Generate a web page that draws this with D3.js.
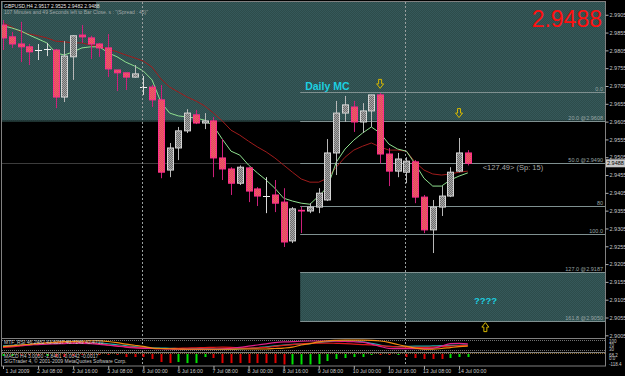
<!DOCTYPE html>
<html><head><meta charset="utf-8">
<script src="https://cdn.jsdelivr.net/npm/d3@7"></script>
<style>html,body{margin:0;padding:0;background:#000;overflow:hidden}svg{display:block}text{font-family:"Liberation Sans",Arial,sans-serif}</style>
</head><body><svg id="c" width="625" height="376"></svg>
<script>
// ---------------- DATA ----------------
const symbolTitle = "GBPUSD,H4  2.9517 2.9525 2.9482 2.9488";
const timerText = "107 Minutes and 49 Seconds left to Bar Close.  s : \"(Spread : 45)\"";
const timeLabels = ["1 Jul 2009","2 Jul 08:00","2 Jul 16:00","3 Jul 08:00","6 Jul 00:00","6 Jul 16:00","7 Jul 08:00","8 Jul 00:00","8 Jul 16:00","9 Jul 08:00","10 Jul 00:00","10 Jul 16:00","13 Jul 08:00","14 Jul 00:00"];
const timeLabelBars = [0,4,8,12,16,20,24,28,32,36,40,44,48,52];
const weekSeparatorBars = [16,46];

const open  = [2.9876,2.9843,2.9823,2.9815,2.9806,2.9809,2.9806,2.9674,2.9787,2.9848,2.9840,2.9823,2.9812,2.9750,2.9742,2.9730,2.9702,2.9702,2.9666,2.9469,2.9531,2.9579,2.9624,2.9601,2.9607,2.9503,2.9472,2.9432,2.9475,2.9416,2.9396,2.9399,2.9379,2.9270,2.9356,2.9354,2.9365,2.9385,2.9517,2.9629,2.9646,2.9604,2.9635,2.9680,2.9514,2.9466,2.9463,2.9492,2.9393,2.9301,2.9365,2.9396,2.9466,2.9517];
const high  = [2.9890,2.9857,2.9885,2.9823,2.9823,2.9826,2.9809,2.9831,2.9848,2.9876,2.9846,2.9826,2.9851,2.9750,2.9742,2.9764,2.9733,2.9708,2.9708,2.9545,2.9590,2.9640,2.9638,2.9629,2.9618,2.9556,2.9477,2.9482,2.9477,2.9421,2.9449,2.9441,2.9418,2.9365,2.9366,2.9376,2.9418,2.9556,2.9663,2.9677,2.9663,2.9657,2.9680,2.9685,2.9531,2.9517,2.9505,2.9497,2.9399,2.9385,2.9424,2.9477,2.9559,2.9525];
const low   = [2.9806,2.9812,2.9772,2.9764,2.9778,2.9789,2.9643,2.9660,2.9722,2.9826,2.9781,2.9787,2.9730,2.9691,2.9694,2.9728,2.9680,2.9646,2.9446,2.9449,2.9497,2.9573,2.9598,2.9584,2.9449,2.9441,2.9399,2.9427,2.9379,2.9368,2.9348,2.9351,2.9253,2.9264,2.9292,2.9348,2.9348,2.9382,2.9455,2.9604,2.9576,2.9573,2.9590,2.9488,2.9424,2.9449,2.9432,2.9376,2.9292,2.9236,2.9340,2.9393,2.9463,2.9482];
const close = [2.9840,2.9823,2.9815,2.9801,2.9806,2.9809,2.9674,2.9789,2.9846,2.9843,2.9823,2.9812,2.9753,2.9742,2.9730,2.9739,2.9702,2.9666,2.9463,2.9531,2.9579,2.9629,2.9601,2.9607,2.9503,2.9472,2.9432,2.9477,2.9410,2.9396,2.9396,2.9376,2.9267,2.9360,2.9354,2.9365,2.9404,2.9517,2.9629,2.9652,2.9604,2.9635,2.9680,2.9514,2.9466,2.9500,2.9494,2.9393,2.9301,2.9365,2.9396,2.9463,2.9517,2.9488];

const maFast = [2.9874,2.9868,2.9860,2.9848,2.9837,2.9826,2.9798,2.9792,2.9801,2.9812,2.9815,2.9815,2.9798,2.9787,2.9772,2.9761,2.9747,2.9722,2.9660,2.9629,2.9621,2.9618,2.9615,2.9609,2.9593,2.9556,2.9522,2.9511,2.9483,2.9461,2.9441,2.9418,2.9390,2.9382,2.9376,2.9373,2.9396,2.9421,2.9491,2.9528,2.9553,2.9573,2.9590,2.9573,2.9542,2.9528,2.9522,2.9486,2.9446,2.9424,2.9424,2.9441,2.9452,2.9461];
const maSlow = [2.9882,2.9871,2.9857,2.9851,2.9846,2.9840,2.9831,2.9829,2.9826,2.9826,2.9820,2.9815,2.9809,2.9801,2.9792,2.9784,2.9775,2.9758,2.9725,2.9702,2.9688,2.9674,2.9663,2.9649,2.9629,2.9607,2.9581,2.9567,2.9550,2.9534,2.9520,2.9503,2.9483,2.9463,2.9444,2.9435,2.9435,2.9446,2.9477,2.9505,2.9525,2.9536,2.9545,2.9534,2.9525,2.9525,2.9522,2.9491,2.9469,2.9458,2.9455,2.9458,2.9463,2.9466];

const priceTicks = [2.9005,2.9055,2.9105,2.9155,2.9205,2.9255,2.9305,2.9355,2.9405,2.9455,2.9505,2.9555,2.9605,2.9655,2.9705,2.9755,2.9805,2.9855,2.9905];
const lastPrice = 2.9488;

const fibHigh = 2.9687, fibLow = 2.9290, fibStartBar = 34;
const fibLevels = [0, 20, 50, 80, 100, 127, 161.8];
const fibLabels = ["0.0", "20.0 @2.9608", "50.0 @2.9490", "80", "100.0", "127.0 @2.9187", "161.8 @2.9050"];

const arrowBars   = [43, 52, 55];
const arrowPrices = [2.9711, 2.9629, 2.9028];
const arrowDirs   = ["down", "down", "up"];

const rsiOrange  = [43,46,50,53,56,59,62,64,65,66,68,68,65,60,54,49,44,37,35,34,33,32,32,32,32,32,32,33,33,33,33,35,37,41,50,56,63,68,70,71,71,71,70,67,61,52,44,37,32,32,35,39,43,45];
const rsiMagenta = [43,45,48,50,52,54,55,56,57,57,56,53,49,45,41,38,36,35,34,33,32,32,32,33,33,34,36,40,45,50,55,60,63,64,66,67,67,67,66,65,64,62,54,44,36,35,35,35,35,36,45,56,57,55];
const rsiTeal    = [46,48,50,52,54,56,58,59,60,60,60,58,55,51,47,43,40,38,37,36,35,34,34,33,32,32,32,33,35,38,42,46,50,53,54,56,60,64,67,68,67,63,57,50,44,43,44,45,45,46,47,48,49,50];
const rsiRed     = [40,42,46,50,55,58,60,62,62,61,59,55,50,46,43,40,38,36,35,35,36,37,38,39,40,41,40,38,37,38,40,44,48,52,55,57,58,58,57,56,54,52,50,47,44,42,41,40,40,41,43,45,47,48];
const rsiText = "MTF_RSI  46.2482  43.5237  40.7249  42.4710";

const histValues = [-22,-22,-11,-11,-22,-22,-33,-33,-22,-11,-11,-11,-11,-11,-34,-34,-34,-56,-90,-102,-90,-102,-102,-34,-45,-102,-102,-102,-102,-102,-102,-102,-118,-118,-118,-118,-113,-79,-56,-45,-34,-34,-11,-11,-11,-11,-34,-45,-56,-56,-56,-45,-34,-34];
const histDirs   = ["up","up","dn","dn","dn","up","dn","dn","dn","dn","dn","dn","dn","dn","dn","dn","dn","dn","dn","dn","up","up","up","up","dn","dn","dn","dn","dn","dn","dn","dn","dn","up","up","up","up","up","up","up","up","up","up","dn","dn","up","dn","dn","dn","dn","dn","up","up","up"];
const histText1 = "MACD H4  3.0000  -2.8401  -0.0042  -0.0017";
const histText2 = "SIGTrader 4, © 2001-2009 MetaQuotes Software Corp.";

// ---------------- LAYOUT ----------------
const W = 625, H = 376;
const paneL = 2, paneR = 605, mainT = 2, mainB = 338.5, p1B = 352.5, p2B = 366;
const svg = d3.select("#c");
svg.append("rect").attr("width", W).attr("height", H).attr("fill", "#000");

const x = d3.scaleLinear().domain([0, 68]).range([3, 3 + 68 * 8.77]);
const y = d3.scaleLinear().domain([2.9055, 2.9705]).range([317.5, 86]);

const defs = svg.append("defs");
defs.append("clipPath").attr("id", "mainClip").append("rect")
  .attr("x", paneL).attr("y", mainT).attr("width", paneR - paneL).attr("height", mainB - mainT);
function dither(id, a, b) {
  const p = defs.append("pattern").attr("id", id).attr("width", 2).attr("height", 2).attr("patternUnits", "userSpaceOnUse");
  p.append("rect").attr("width", 2).attr("height", 2).attr("fill", a);
  p.append("rect").attr("width", 1).attr("height", 1).attr("fill", b);
  p.append("rect").attr("x", 1).attr("y", 1).attr("width", 1).attr("height", 1).attr("fill", b);
}
dither("bearFill", "#e43a6c", "#ec6a5c");
dither("bullFill", "#6c6c6c", "#a8a8a8");
dither("tealFill", "#2d4c4a", "#35585a");

const main = svg.append("g").attr("clip-path", "url(#mainClip)");

// zones (teal rectangles)
const fibPrice = lv => fibHigh - (fibHigh - fibLow) * lv / 100;
main.append("rect").attr("x", paneL).attr("y", mainT)
  .attr("width", paneR - paneL).attr("height", y(fibPrice(20)) - mainT).attr("fill", "url(#tealFill)");
main.append("rect").attr("x", x(fibStartBar) - 1).attr("y", y(fibPrice(127)))
  .attr("width", paneR - x(fibStartBar) + 1).attr("height", y(fibPrice(161.8)) - y(fibPrice(127))).attr("fill", "url(#tealFill)");
main.append("line").attr("x1", paneL).attr("x2", paneR)
  .attr("y1", Math.round(y(fibPrice(20))) + 0.5).attr("y2", Math.round(y(fibPrice(20))) + 0.5)
  .attr("stroke", "#1e3230").attr("stroke-width", 1);

// bid line
main.append("line").attr("x1", paneL).attr("x2", paneR)
  .attr("y1", Math.round(y(lastPrice)) + 0.5).attr("y2", Math.round(y(lastPrice)) + 0.5)
  .attr("stroke", "#3c3c3c");

// fib lines
fibLevels.forEach((lv, k) => {
  const yy = Math.round(y(fibPrice(lv))) + 0.5;
  main.append("line").attr("x1", x(fibStartBar) - 1).attr("x2", paneR).attr("y1", yy).attr("y2", yy)
    .attr("stroke", "#7f9090").attr("stroke-width", 1);
  main.append("text").attr("x", paneR - 2).attr("y", yy - 1.5).attr("text-anchor", "end")
    .attr("font-size", 5.5).attr("fill", "#9aa6a6").text(fibLabels[k]);
});

// week separators
weekSeparatorBars.forEach(b => {
  svg.append("line").attr("x1", Math.round(x(b)) - 0.5).attr("x2", Math.round(x(b)) - 0.5)
    .attr("y1", mainT).attr("y2", p2B).attr("stroke", "#9aa0a0").attr("stroke-dasharray", "2,2").attr("stroke-width", 1);
});

// moving averages
const idx = d3.range(open.length);
const lineGen = arr => d3.line().x(i => x(i)).y(i => y(arr[i]))(idx);
main.append("path").attr("d", lineGen(maSlow)).attr("fill", "none").attr("stroke", "#a01c1c").attr("stroke-width", 1);
main.append("path").attr("d", lineGen(maFast)).attr("fill", "none").attr("stroke", "#8fe08f").attr("stroke-width", 1);

// candles
idx.forEach(i => {
  const cx = Math.round(x(i)) + 0.5;
  const bull = close[i] >= open[i];
  const doji = Math.abs(close[i] - open[i]) < 0.00012;
  const wickCol = bull ? "#b8b8b8" : "#cc1f7a";
  main.append("line").attr("x1", cx).attr("x2", cx).attr("y1", y(high[i])).attr("y2", y(low[i]))
    .attr("stroke", doji && bull ? "#d8d8d8" : wickCol).attr("stroke-width", 1);
  if (doji) {
    main.append("line").attr("x1", cx - 3.5).attr("x2", cx + 3.5)
      .attr("y1", Math.round(y(close[i])) + 0.5).attr("y2", Math.round(y(close[i])) + 0.5)
      .attr("stroke", bull ? "#f0f0f0" : "#ff2d8c").attr("stroke-width", 1);
  } else {
    const top = y(Math.max(open[i], close[i])), bot = y(Math.min(open[i], close[i]));
    main.append("rect").attr("x", cx - 3).attr("y", top).attr("width", 6).attr("height", bot - top)
      .attr("fill", bull ? "url(#bullFill)" : "url(#bearFill)")
      .attr("stroke", bull ? "#d4d4d4" : "#ff2d8c").attr("stroke-width", 1);
  }
});

// arrows
arrowBars.forEach((b, k) => {
  const cx = x(b), cy = y(arrowPrices[k]);
  const s = arrowDirs[k] === "down" ? 1 : -1;
  const p = d3.path();
  p.moveTo(cx - 1.5, cy - 4.5 * s); p.lineTo(cx + 1.5, cy - 4.5 * s); p.lineTo(cx + 1.5, cy);
  p.lineTo(cx + 3.5, cy); p.lineTo(cx, cy + 4.5 * s); p.lineTo(cx - 3.5, cy); p.lineTo(cx - 1.5, cy); p.closePath();
  main.append("path").attr("d", p.toString()).attr("fill", "none").attr("stroke", "#d6b800").attr("stroke-width", 1);
});

// annotations
main.append("text").attr("x", x(34.45)).attr("y", y(2.9694)).attr("font-size", 10.5).attr("font-weight", "bold")
  .attr("fill", "#1ccfe0").text("Daily MC");
main.append("text").attr("x", x(53.7)).attr("y", y(2.9092)).attr("font-size", 9.5).attr("font-weight", "bold")
  .attr("fill", "#1ccfe0").text("????");
main.append("text").attr("x", x(54.7)).attr("y", y(2.9470)).attr("font-size", 7.5)
  .attr("fill", "#a8a8a8").text("<127.49> (Sp: 15)");
main.append("text").attr("x", 602).attr("y", 27).attr("text-anchor", "end").attr("font-size", 23)
  .attr("fill", "#ff1010").text(lastPrice.toFixed(4));

// title
svg.append("rect").attr("x", 3).attr("y", 2).attr("width", 93).attr("height", 7).attr("fill", "#000");
svg.append("text").attr("x", 4).attr("y", 8).attr("font-size", 5).attr("fill", "#e8e8e8").text(symbolTitle);
svg.append("text").attr("x", 4).attr("y", 14).attr("font-size", 5).attr("fill", "#a0a8a8").text(timerText);

// ---------------- INDICATOR PANE 1 (MTF RSI) ----------------
const yR = d3.scaleLinear().domain([30, 70]).range([349.7, 340.3]);
const p1 = svg.append("g");
[70, 30].forEach(v => p1.append("line").attr("x1", paneL).attr("x2", paneR)
  .attr("y1", Math.round(yR(v)) + 0.5).attr("y2", Math.round(yR(v)) + 0.5)
  .attr("stroke", "#707070").attr("stroke-dasharray", "1,1"));
[[rsiTeal, "#20b0b0"], [rsiRed, "#e01818"], [rsiMagenta, "#e0208a"], [rsiOrange, "#f08a10"]].forEach(([arr, col]) => {
  p1.append("path").attr("d", d3.line().x(i => x(i)).y(i => yR(arr[i])).curve(d3.curveMonotoneX)(idx))
    .attr("fill", "none").attr("stroke", col).attr("stroke-width", 1.2);
});
p1.append("text").attr("x", 4).attr("y", 344).attr("font-size", 5).attr("fill", "#c8c8c8").text(rsiText);

// ---------------- INDICATOR PANE 2 (histogram) ----------------
const yH = d3.scaleLinear().domain([-118.4, 0]).range([364.5, 354]);
const p2 = svg.append("g");
p2.append("line").attr("x1", paneL).attr("x2", paneR).attr("y1", 353.5).attr("y2", 353.5)
  .attr("stroke", "#8a6a30").attr("stroke-dasharray", "1,1");
idx.forEach(i => {
  p2.append("rect").attr("x", Math.round(x(i)) - 0.5).attr("y", yH(0)).attr("width", 2)
    .attr("height", yH(histValues[i]) - yH(0)).attr("fill", histDirs[i] === "up" ? "#00e000" : "#e00000");
});
p2.append("text").attr("x", 4).attr("y", 357.5).attr("font-size", 5).attr("fill", "#c8c8c8").text(histText1);
p2.append("text").attr("x", 4).attr("y", 363).attr("font-size", 5).attr("fill", "#c8c8c8").text(histText2);

// ---------------- FRAMES ----------------
const frame = svg.append("g").attr("stroke", "#808080").attr("stroke-width", 1).attr("fill", "none");
frame.append("rect").attr("x", paneL - 0.5).attr("y", mainT - 0.5).attr("width", paneR - paneL + 1).attr("height", p2B - mainT + 0.5);
[mainB, p1B].forEach(yy => frame.append("line").attr("x1", paneL).attr("x2", paneR).attr("y1", yy).attr("y2", yy));

// ---------------- AXES ----------------
const yAxis = d3.axisRight(y).tickValues(priceTicks).tickFormat(d3.format(".4f")).tickSize(3).tickSizeOuter(0);
const gy = svg.append("g").attr("transform", `translate(${paneR + 0.5},0)`).call(yAxis);
gy.select(".domain").remove();
gy.selectAll("line").attr("stroke", "#b0b0b0");
gy.selectAll("text").attr("font-size", 5.5).attr("fill", "#c8c8c8").attr("x", 4);

svg.append("rect").attr("x", 606).attr("y", y(lastPrice) - 4).attr("width", 19).attr("height", 8).attr("fill", "#c8c8c8");
svg.append("text").attr("x", 607).attr("y", y(lastPrice) + 2).attr("font-size", 5.5).attr("fill", "#000").text(lastPrice.toFixed(4));

// pane scale labels
[["100", 341], ["70", 345], ["30", 349.5]].forEach(([t, yy]) =>
  svg.append("text").attr("x", 609).attr("y", yy + 1.5).attr("font-size", 4.5).attr("fill", "#c8c8c8").text(t));
[["68.2", 355], ["0.0", 358.5], ["-118.4", 364]].forEach(([t, yy]) =>
  svg.append("text").attr("x", 609).attr("y", yy + 1.5).attr("font-size", 4.5).attr("fill", "#c8c8c8").text(t));

const xAxis = d3.axisBottom(x).tickValues(timeLabelBars).tickFormat((d, k) => timeLabels[k]).tickSize(3).tickSizeOuter(0);
const gx = svg.append("g").attr("transform", `translate(0,${p2B})`).call(xAxis);
gx.select(".domain").remove();
gx.selectAll("line").attr("stroke", "#b0b0b0");
gx.selectAll("text").attr("font-size", 5.2).attr("fill", "#c8c8c8").attr("text-anchor", "start")
  .attr("y", 3).attr("dy", "0.71em").attr("x", (d) => d === 0 ? 2 : -1.5);
</script></body></html>
